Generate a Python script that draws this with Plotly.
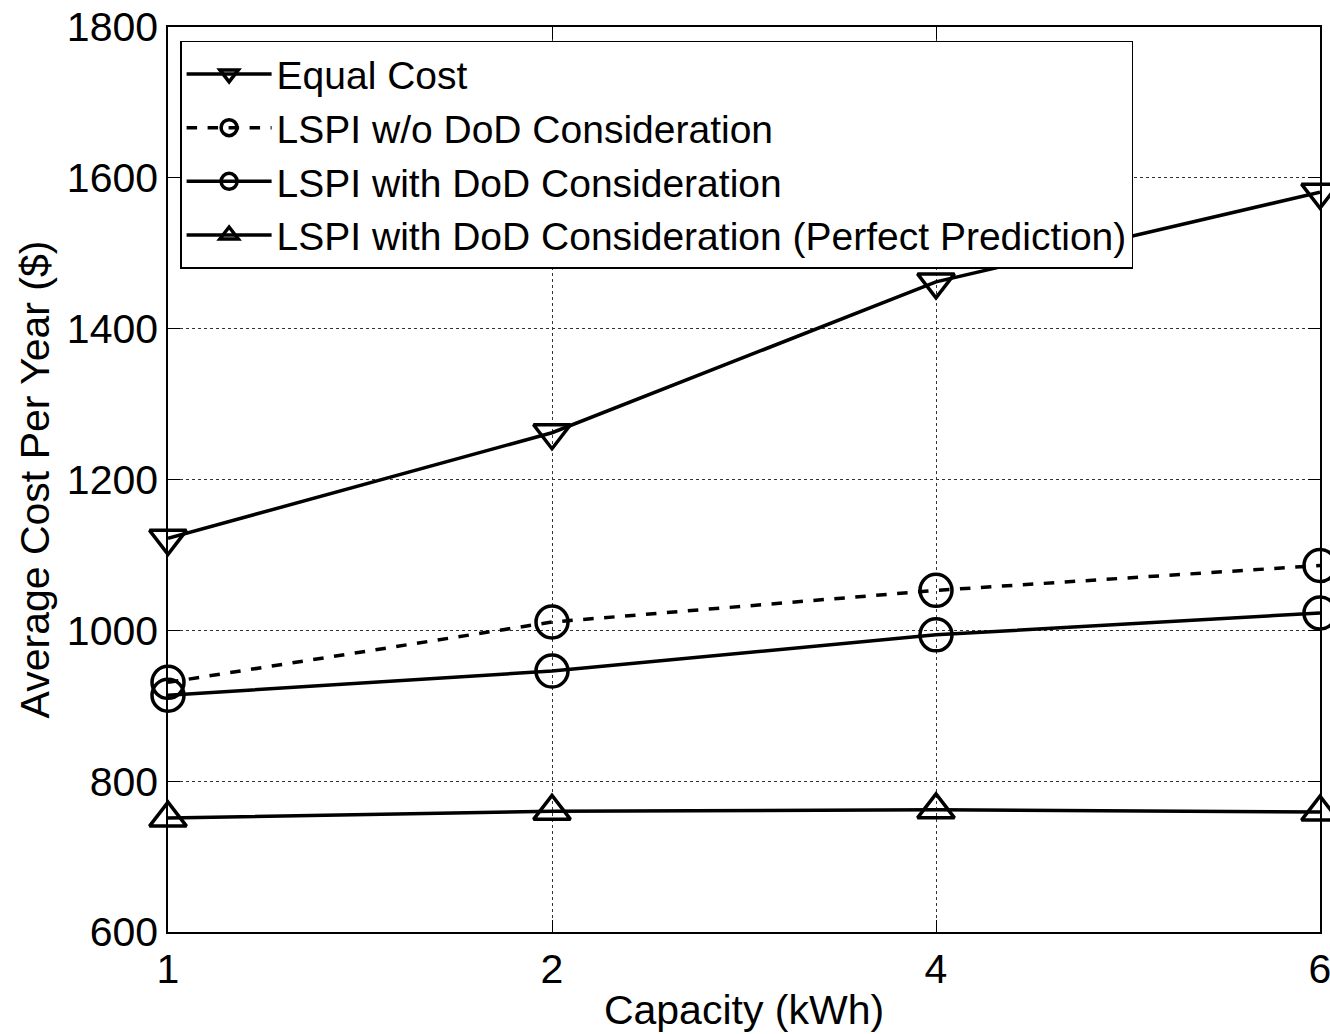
import plotly.graph_objects as go

capacity = ["1", "2", "4", "6"]
equal_cost = [1122, 1262, 1462, 1581]
lspi_wo_dod = [931, 1011, 1053, 1086]
lspi_with_dod = [914, 946, 994, 1023]
lspi_perfect = [751, 760, 762, 759]

names = ["Equal Cost", "LSPI w/o DoD Consideration", "LSPI with DoD Consideration",
         "LSPI with DoD Consideration (Perfect Prediction)"]
series = [equal_cost, lspi_wo_dod, lspi_with_dod, lspi_perfect]
symbols = ["triangle-down-open", "circle-open", "circle-open", "triangle-up-open"]
dashes = ["solid", "dash", "solid", "solid"]

xpos = list(range(len(capacity)))

fig = go.Figure()
for n, s, sym, d in zip(names, series, symbols, dashes):
    fig.add_trace(go.Scatter(
        x=xpos, y=s, name=n, mode="lines+markers",
        line=dict(color="black", width=3.5, dash=d),
        marker=dict(symbol=sym, size=32, color="black", line=dict(width=3.5, color="black")),
        cliponaxis=False,
    ))

font = dict(family="Liberation Sans, Arial, sans-serif", color="black")
fig.update_layout(
    width=1330, height=1034,
    margin=dict(l=168, r=10, t=27, b=102),
    paper_bgcolor="white", plot_bgcolor="white",
    font=dict(size=41, **font),
    showlegend=True,
    legend=dict(x=0.0105, y=0.985, xanchor="left", yanchor="top",
                bgcolor="white", bordercolor="black", borderwidth=1.5,
                font=dict(size=39, **font), itemwidth=85, tracegroupgap=0),
)
fig.update_xaxes(
    tickmode="array", tickvals=xpos, ticktext=capacity, range=[0, 3],
    showline=True, linecolor="black", linewidth=1.5, mirror="ticks",
    ticks="inside", ticklen=12, tickcolor="black",
    showgrid=True, gridcolor="#333", griddash="dot", gridwidth=1,
    zeroline=False, automargin=False, ticklabeloverflow="allow",
    title=dict(text="Capacity (kWh)", standoff=4, font=dict(size=41, **font)),
    tickfont=dict(size=41, **font),
)
fig.update_yaxes(
    range=[600, 1800], dtick=200,
    showline=True, linecolor="black", linewidth=1.5, mirror="ticks",
    ticks="inside", ticklen=12, tickcolor="black",
    showgrid=True, gridcolor="#333", griddash="dot", gridwidth=1,
    zeroline=False, automargin=False, ticklabeloverflow="allow",
    title=dict(text="Average Cost Per Year ($)", standoff=4, font=dict(size=41, **font)),
    tickfont=dict(size=41, **font),
)

fig.write_html("out.html")
